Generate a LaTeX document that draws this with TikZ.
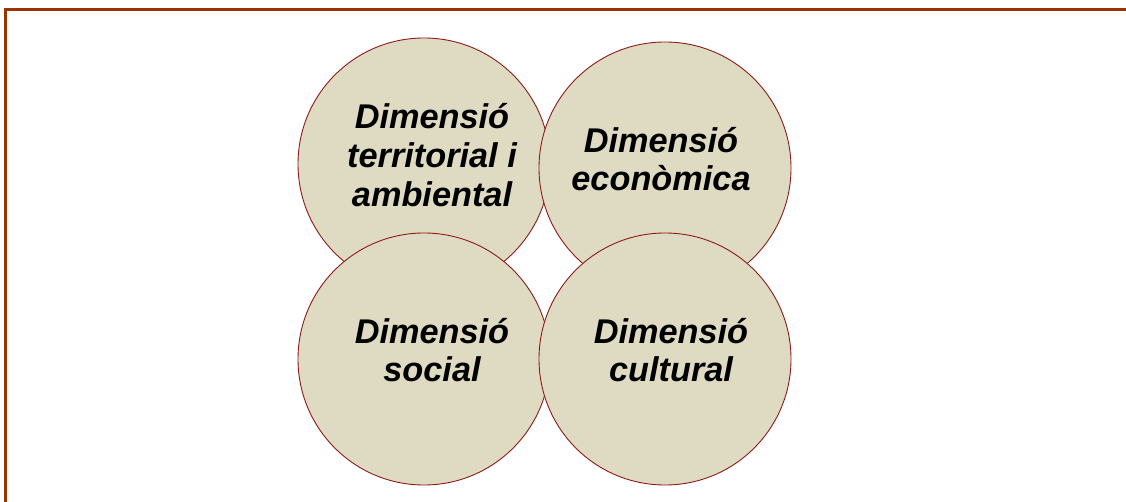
\documentclass[tikz,border=0pt]{standalone}
\usepackage{fontspec}
\setmainfont{Liberation Sans}
\definecolor{framec}{HTML}{993300}
\definecolor{circfill}{HTML}{DFDBC3}
\definecolor{circline}{HTML}{8B1A1A}
\begin{document}
\begin{tikzpicture}[x=1pt,y=-1pt,
  dim/.style={circle,draw=circline,line width=0.9pt,fill=circfill,minimum size=252pt,inner sep=0pt},
  lbl/.style={align=center,font=\fontsize{34.3}{38.8}\selectfont\bfseries\itshape,text=black,inner sep=0pt}]
\useasboundingbox (0,0) rectangle (1126,502);
\draw[framec,line width=3pt,line join=miter] (1126,9.5) -- (5.5,9.5) -- (5.5,502);
\node[dim] (tl) at (424,164) {};
\node[dim] (tr) at (665,168) {};
\node[dim] (bl) at (424,359) {};
\node[dim] (br) at (665,359) {};
\node[lbl] (tltext) at (432,155) {Dimensió\\territorial i\\ambiental};
\node[lbl] (trtext) at (661,159) {Dimensió\\econòmica};
\node[lbl] (bltext) at (432,350) {Dimensió\\social};
\node[lbl] (brtext) at (671,350) {Dimensió\\cultural};
\end{tikzpicture}
\end{document}
